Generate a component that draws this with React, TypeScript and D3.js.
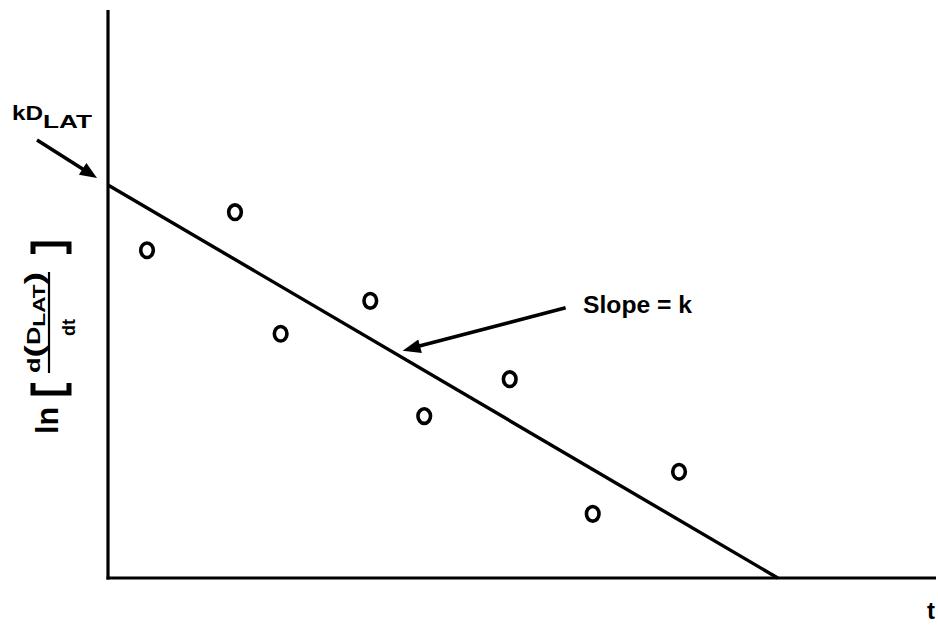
import React from "react";
import * as d3 from "d3";

// Observed data points (t, ln[d(D_LAT)/dt]) in arbitrary units
const tValues = [0.47, 1.53, 2.08, 3.16, 3.81, 4.84, 5.84, 6.88];
const lnRateValues = [5.77, 6.44, 4.3, 4.88, 2.85, 3.5, 1.13, 1.87];
// Fitted line: intercept on the y axis and intercept on the t axis
const fitT = [0, 8.07];
const fitLn = [6.92, 0];

const W = 938;
const H = 627;
const FONT = "'Liberation Sans', Arial, Helvetica, sans-serif";

function arrowHead(tipX: number, tipY: number, fromX: number, fromY: number, len = 16, half = 6) {
  const a = Math.atan2(tipY - fromY, tipX - fromX);
  const bx = tipX - len * Math.cos(a);
  const by = tipY - len * Math.sin(a);
  const px = -Math.sin(a) * half;
  const py = Math.cos(a) * half;
  return `M${tipX},${tipY} L${bx + px},${by + py} L${bx - px},${by - py} Z`;
}

export default function App() {
  const x = d3.scaleLinear().domain([0, 10]).range([108, 938]);
  const y = d3.scaleLinear().domain([0, 10]).range([578, 10]);

  const pts = tValues.map((t, i) => ({ t, v: lnRateValues[i] }));
  const fit = d3
    .line<number>()
    .x((_, i) => x(fitT[i]))
    .y((d) => y(d))(fitLn);

  // annotation arrows anchored to the fit line
  const x0 = x(0);
  const y0 = y(fitLn[0]);
  const a1Tip = [x0 - 11, y0 - 7];
  const a1Tail = [x0 - 71, y0 - 45];
  const slopeT = 3.55;
  const lineAt = (t: number) => y(fitLn[0] + (fitLn[1] - fitLn[0]) * (t / fitT[1]));
  const a2Tip = [x(slopeT), lineAt(slopeT) - 7];
  const a2Tail = [a2Tip[0] + 163, a2Tip[1] - 43];

  return (
    <svg
      width={W}
      height={H}
      style={{ position: "absolute", left: 0, top: 0, background: "#fff" }}
      fontFamily={FONT}
    >
      <rect width={W} height={H} fill="#fff" />
      {/* axes */}
      <line x1={x(0)} y1={y(10)} x2={x(0)} y2={y(0) + 1.5} stroke="#000" strokeWidth={3.2} />
      <line x1={x(0) - 1.5} y1={y(0)} x2={936} y2={y(0)} stroke="#000" strokeWidth={3.2} />

      {/* fitted line */}
      <path d={fit || ""} fill="none" stroke="#000" strokeWidth={3.4} />

      {/* data points drawn as open O's */}
      {pts.map((p, i) => (
        <ellipse key={i} cx={x(p.t)} cy={y(p.v)} rx={6.3} ry={7.3} fill="none" stroke="#000" strokeWidth={3.6} />
      ))}

      {/* kD_LAT annotation */}
      <text x={12} y={120} fontSize={20} fontWeight="bold" textLength={31} lengthAdjust="spacingAndGlyphs">kD</text>
      <text x={43} y={128} fontSize={19} fontWeight="bold" textLength={49} lengthAdjust="spacingAndGlyphs">LAT</text>
      <line x1={a1Tail[0]} y1={a1Tail[1]} x2={a1Tip[0] - 8} y2={a1Tip[1] - 5} stroke="#000" strokeWidth={3.6} />
      <path d={arrowHead(a1Tip[0], a1Tip[1], a1Tail[0], a1Tail[1], 17, 7)} fill="#000" />

      {/* slope annotation */}
      <text x={583} y={313} fontSize={24} fontWeight="bold" textLength={109} lengthAdjust="spacingAndGlyphs">Slope = k</text>
      <line x1={a2Tail[0]} y1={a2Tail[1]} x2={a2Tip[0] + 10} y2={a2Tip[1] - 3} stroke="#000" strokeWidth={3.6} />
      <path d={arrowHead(a2Tip[0], a2Tip[1], a2Tail[0], a2Tail[1], 18, 7)} fill="#000" />

      {/* y axis label (rotated) */}
      <g transform="rotate(-90)" fontWeight="bold">
        <text x={-434} y={58} fontSize={31} textLength={27} lengthAdjust="spacingAndGlyphs">ln</text>
        <path d="M-383,33 H-393 V69 H-383" fill="none" stroke="#000" strokeWidth={5} />
        <path d="M-254,33 H-244 V69 H-254" fill="none" stroke="#000" strokeWidth={5} />
        <text x={-373} y={40} fontSize={18} textLength={101} lengthAdjust="spacingAndGlyphs">
          <tspan>d</tspan>
          <tspan fontSize={26} dy={3}>(</tspan>
          <tspan dy={-3}>D</tspan>
          <tspan fontSize={16} dy={5}>LAT</tspan>
          <tspan fontSize={26} dy={-2}>)</tspan>
        </text>
        <line x1={-373} y1={49} x2={-272} y2={49} stroke="#000" strokeWidth={2.2} />
        <text x={-336} y={75} fontSize={18}>dt</text>
      </g>

      {/* x axis label */}
      <text x={927} y={619} fontSize={24} fontWeight="bold">t</text>
    </svg>
  );
}
